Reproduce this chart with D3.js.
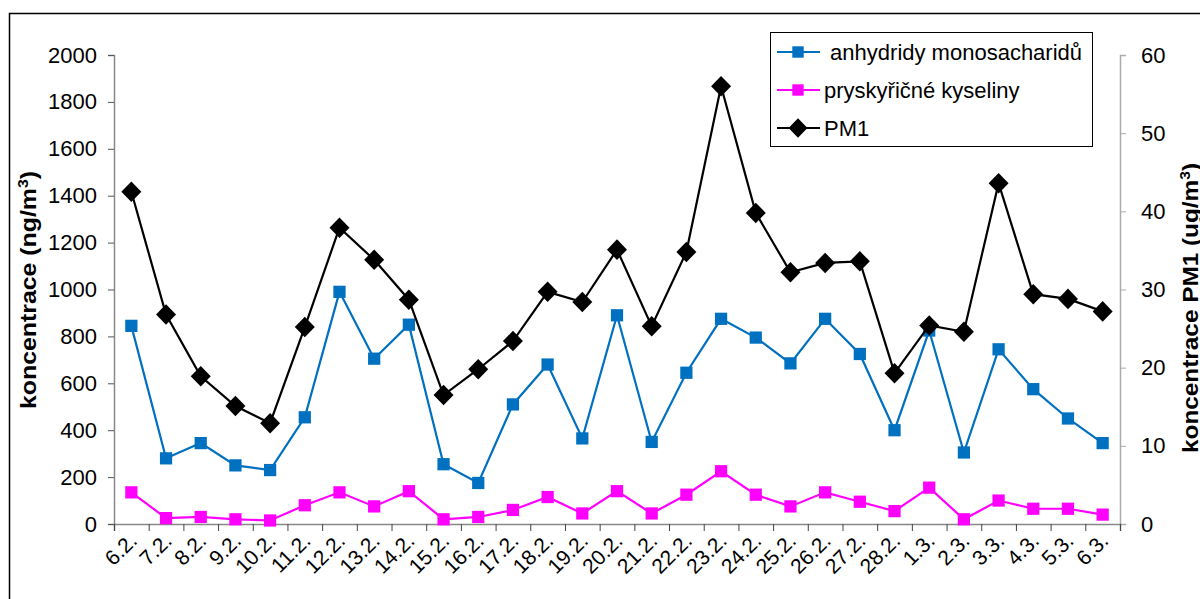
<!DOCTYPE html>
<html lang="cs">
<head>
<meta charset="UTF-8"/>
<title>Koncentrace</title>
<script src="https://d3js.org/d3.v7.min.js"></script>
<style>
	body { margin: 0; background: #fff; }
	text { font-family: "Liberation Sans", Arial, sans-serif; fill: #000; }
</style>
</head>
<body>
<script>

	var w = 1200;
	var h = 599;

	// data
	var days = ["6.2.", "7.2.", "8.2.", "9.2.", "10.2.", "11.2.", "12.2.", "13.2.", "14.2.", "15.2.",
				"16.2.", "17.2.", "18.2.", "19.2.", "20.2.", "21.2.", "22.2.", "23.2.", "24.2.", "25.2.",
				"26.2.", "27.2.", "28.2.", "1.3.", "2.3.", "3.3.", "4.3.", "5.3.", "6.3."];

	var anhydridy = [845, 280, 345, 250, 230, 455, 990, 705, 850, 255,
					 175, 510, 680, 365, 890, 350, 645, 875, 795, 685,
					 875, 725, 400, 825, 305, 745, 575, 450, 345];

	var kyseliny = [135, 25, 30, 20, 15, 80, 135, 75, 140, 20,
					30, 60, 115, 45, 140, 45, 125, 225, 125, 75,
					135, 95, 55, 155, 20, 100, 65, 65, 40];

	var pm1 = [42.5, 26.8, 18.9, 15.1, 12.9, 25.2, 37.9, 33.8, 28.7, 16.5,
			   19.8, 23.4, 29.7, 28.4, 35.1, 25.3, 34.8, 56.0, 39.8, 32.2,
			   33.4, 33.6, 19.3, 25.4, 24.6, 43.6, 29.4, 28.8, 27.2];

	var leftTicks = [0, 200, 400, 600, 800, 1000, 1200, 1400, 1600, 1800, 2000];
	var rightTicks = [0, 10, 20, 30, 40, 50, 60];

	// plot area (note: "top" is reserved on window, so prefixed names)
	var pLeft = 114, pRight = 1120, pTop = 55, pBottom = 524;

	var svg = d3.select("body")
		.append("svg")
		.attr("width", w)
		.attr("height", h);

	// outer frame
	svg.append("rect")
		.attr("x", 9.5)
		.attr("y", 13.5)
		.attr("width", 1300)
		.attr("height", 700)
		.attr("fill", "none")
		.attr("stroke", "#000")
		.attr("stroke-width", 1.5);

	var xScale = d3.scaleBand()
		.domain(days)
		.range([pLeft, pRight]);

	var xIdx = d3.scaleLinear()
		.domain([0, days.length])
		.range([pLeft, pRight]);

	var yLeft = d3.scaleLinear()
		.domain([0, 2000])
		.range([pBottom, pTop]);

	var yRight = d3.scaleLinear()
		.domain([0, 60])
		.range([pBottom, pTop]);

	//left axis
	var gl = svg.append("g")
		.attr("transform", "translate(" + pLeft + ",0)")
		.call(d3.axisLeft(yLeft).tickValues(leftTicks).tickFormat(d3.format("d")).tickSize(6).tickPadding(11));
	gl.selectAll("text").style("font-size", "22px");

	//right axis
	var gr = svg.append("g")
		.attr("transform", "translate(" + pRight + ",0)")
		.call(d3.axisRight(yRight).tickValues(rightTicks).tickSize(6).tickPadding(15));
	gr.selectAll("text").style("font-size", "22px");

	//x axis: ticks on category boundaries
	var gx = svg.append("g")
		.attr("transform", "translate(0," + pBottom + ")")
		.call(d3.axisBottom(xIdx).tickValues(d3.range(days.length + 1)).tickFormat("").tickSize(7));

	svg.selectAll(".domain").attr("stroke", "#888").attr("stroke-width", 1.5);
	gl.selectAll(".tick line").attr("stroke", "#555");
	gx.selectAll(".tick line").attr("stroke", "#444");
	gr.selectAll(".tick line").attr("stroke", "#aaa");
	gr.select(".domain").attr("stroke", "#aaa");

	svg.selectAll(".xlabel")
		.data(days)
		.enter()
		.append("text")
		.attr("class", "xlabel")
		.attr("text-anchor", "end")
		.style("font-size", "21px")
		.attr("transform", function(d) {
			return "translate(" + (xScale(d) + xScale.bandwidth() / 2 + 7) + "," + (pBottom + 18) + ") rotate(-45)";
		})
		.text(function(d) { return d; });

	// axis titles
	svg.append("text")
		.attr("transform", "translate(36," + 290 + ") rotate(-90)")
		.attr("text-anchor", "middle")
		.attr("textLength", 238)
		.attr("lengthAdjust", "spacingAndGlyphs")
		.style("font-size", "22px")
		.style("font-weight", "bold")
		.html("koncentrace (ng/m<tspan baseline-shift='super' font-size='14px'>3</tspan>)");

	svg.append("text")
		.attr("transform", "translate(1198," + 308 + ") rotate(-90)")
		.attr("text-anchor", "middle")
		.attr("textLength", 290)
		.attr("lengthAdjust", "spacingAndGlyphs")
		.style("font-size", "22px")
		.style("font-weight", "bold")
		.html("koncentrace PM1 (ug/m<tspan baseline-shift='super' font-size='14px'>3</tspan>)");

	var cx = function(d, i) { return xScale(days[i]) + xScale.bandwidth() / 2; };

	var series = [
		{ values: anhydridy, y: yLeft, color: "#0070c0", marker: "square" },
		{ values: kyseliny, y: yLeft, color: "#ff00ff", marker: "square" },
		{ values: pm1, y: yRight, color: "#000000", marker: "diamond" }
	];

	series.forEach(function(s) {
		var line = d3.line()
			.x(cx)
			.y(function(d) { return s.y(d); });

		svg.append("path")
			.datum(s.values)
			.attr("d", line)
			.attr("fill", "none")
			.attr("stroke", s.color)
			.attr("stroke-width", 2.2);

		svg.append("g")
			.selectAll("path")
			.data(s.values)
			.enter()
			.append("path")
			.attr("d", d3.symbol()
				.type(s.marker == "square" ? d3.symbolSquare : d3.symbolDiamond)
				.size(s.marker == "square" ? 150 : 190))
			.attr("transform", function(d, i) {
				return "translate(" + cx(d, i) + "," + s.y(d) + ")" + (s.marker == "diamond" ? " scale(1.35,0.8)" : "");
			})
			.attr("fill", s.color);
	});

	// legend
	var legend = svg.append("g");
	legend.append("rect")
		.attr("x", 770.5)
		.attr("y", 32.5)
		.attr("width", 322)
		.attr("height", 114)
		.attr("fill", "#fff")
		.attr("stroke", "#000")
		.attr("stroke-width", 1);

	var legendItems = [
		{ label: " anhydridy monosacharidů", color: "#0070c0", marker: "square" },
		{ label: "pryskyřičné kyseliny", color: "#ff00ff", marker: "square" },
		{ label: "PM1", color: "#000000", marker: "diamond" }
	];

	legendItems.forEach(function(d, i) {
		var ly = 52 + i * 38;
		legend.append("line")
			.attr("x1", 777).attr("x2", 820)
			.attr("y1", ly).attr("y2", ly)
			.attr("stroke", d.color)
			.attr("stroke-width", 2.2);
		legend.append("path")
			.attr("d", d3.symbol()
				.type(d.marker == "square" ? d3.symbolSquare : d3.symbolDiamond)
				.size(d.marker == "square" ? 130 : 170))
			.attr("transform", "translate(798," + ly + ")" + (d.marker == "diamond" ? " scale(1.35,0.8)" : ""))
			.attr("fill", d.color);
		legend.append("text")
			.attr("x", 824)
			.attr("y", ly + 8)
			.style("font-size", "22px")
			.style("white-space", "pre")
			.attr("xml:space", "preserve")
			.text(d.label);
	});

</script>
</body>
</html>
